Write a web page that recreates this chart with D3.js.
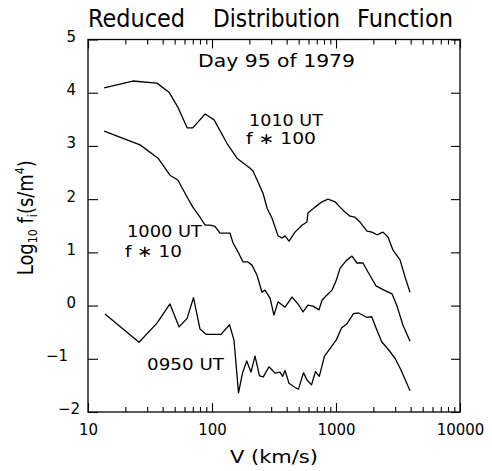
<!DOCTYPE html>
<html>
<head>
<meta charset="utf-8">
<script src="https://cdn.jsdelivr.net/npm/d3@7"></script>
<style>
  body { margin: 0; background: #fff; }
  svg text { font-family: "DejaVu Sans", "Liberation Sans", sans-serif; fill: #000; }
</style>
</head>
<body>
<svg id="chart" width="492" height="471"></svg>
<script>
// velocity (km/s) and log10 f for each time
const v1010 = [13.5, 23, 36, 45, 53, 63, 70, 88, 104, 132, 159, 203, 214, 231, 258, 278, 305, 341, 367, 388,
    418, 467, 532, 583, 594, 677, 771, 862, 982, 1077, 1182, 1297, 1423, 1561, 1778, 1950, 2141, 2393, 2626,
    2884, 3281, 3602, 3954];
const f1010 = [4.09, 4.22, 4.18, 4.01, 3.73, 3.34, 3.34, 3.60, 3.49, 3.05, 2.77, 2.58, 2.53, 2.36, 2.11, 1.83,
    1.64, 1.31, 1.27, 1.31, 1.21, 1.38, 1.51, 1.57, 1.74, 1.85, 1.95, 2.00, 1.95, 1.85, 1.76, 1.68, 1.66, 1.57,
    1.40, 1.38, 1.33, 1.38, 1.29, 1.04, 0.86, 0.54, 0.25];

const v1000 = [13.5, 26.3, 36.7, 45.8, 53, 63, 70, 80, 88, 96.4, 105.7, 116, 127.3, 139.7, 147.6, 162, 177.8,
    195, 210, 230.7, 253, 267.6, 294, 316, 340.7, 388, 441.6, 494, 542, 594, 652.5, 729, 771, 846, 928, 1000,
    1077, 1204, 1346, 1476, 1651, 1811, 2102, 2438, 2829, 3105, 3468, 3954];
const f1000 = [3.28, 3.02, 2.77, 2.45, 2.36, 2.04, 1.85, 1.66, 1.51, 1.51, 1.49, 1.36, 1.36, 1.36, 1.18, 1.01,
    0.82, 0.82, 0.76, 0.57, 0.25, 0.29, 0.14, -0.18, 0.07, -0.03, 0.16, 0.03, -0.12, 0.01, -0.01, -0.08, 0.10,
    0.20, 0.29, 0.46, 0.70, 0.84, 0.93, 0.80, 0.80, 0.63, 0.37, 0.29, 0.22, -0.01, -0.37, -0.67];

const v0950 = [13.7, 25.8, 36, 45.8, 54.2, 63, 70.9, 80, 89.5, 118.2, 138.4, 150.4, 163.6, 176.2, 190.5, 206.3,
    222.3, 241.6, 259.3, 288.4, 322.3, 353.5, 371.7, 388, 418, 467, 498.4, 547, 583, 634.6, 683.5, 733.3,
    807.6, 894.5, 1009, 1108, 1227, 1384, 1519, 1769, 1941, 2128, 2336, 2651, 2991, 3343, 3954];
const f0950 = [-0.16, -0.69, -0.33, 0.03, -0.40, -0.24, 0.15, -0.44, -0.54, -0.54, -0.36, -0.65, -1.64, -1.27,
    -1.04, -1.25, -0.95, -1.32, -1.34, -1.15, -1.27, -1.25, -1.33, -1.22, -1.46, -1.54, -1.57, -1.26, -1.40,
    -1.49, -1.24, -1.33, -0.95, -0.81, -0.64, -0.42, -0.34, -0.15, -0.14, -0.22, -0.21, -0.45, -0.68, -0.83,
    -0.99, -1.21, -1.60];

const xTickVals = [10, 100, 1000, 10000];
const yTickVals = [-2, -1, 0, 1, 2, 3, 4, 5];

let svg = d3.select("#chart"),
    margin = {top: 39.5, right: 32, bottom: 59, left: 88},
    width = +svg.attr("width"),
    height = +svg.attr("height");

let x = d3.scaleLog()
    .domain([10, 10000])
    .range([margin.left, width - margin.right]);

let y = d3.scaleLinear()
    .domain([-2, 5])
    .range([height - margin.bottom, margin.top]);

let minorVals = x.ticks().filter(d => xTickVals.indexOf(d) < 0);

// frame
svg.append("rect")
    .attr("x", x(10)).attr("y", y(5))
    .attr("width", x(10000) - x(10)).attr("height", y(-2) - y(5))
    .attr("fill", "none").attr("stroke", "#000").attr("stroke-width", 1.3);

function styleAxis(g) {
    g.select(".domain").remove();
    g.selectAll("line").attr("stroke", "#000").attr("stroke-width", 1.1);
    g.attr("font-size", 15).attr("font-family", null);
}

// bottom axis, major + minor
svg.append("g")
    .attr("transform", "translate(0," + y(-2) + ")")
    .call(d3.axisBottom(x).tickValues(xTickVals).tickSize(-9).tickSizeOuter(0).tickPadding(12)
        .tickFormat(d3.format("d")))
    .call(styleAxis);
svg.append("g")
    .attr("transform", "translate(0," + y(-2) + ")")
    .call(d3.axisBottom(x).tickValues(minorVals).tickSize(-5).tickSizeOuter(0).tickFormat(""))
    .call(styleAxis);

// top axis
svg.append("g")
    .attr("transform", "translate(0," + y(5) + ")")
    .call(d3.axisTop(x).tickValues(xTickVals).tickSize(-9).tickSizeOuter(0).tickFormat(""))
    .call(styleAxis);
svg.append("g")
    .attr("transform", "translate(0," + y(5) + ")")
    .call(d3.axisTop(x).tickValues(minorVals).tickSize(-5).tickSizeOuter(0).tickFormat(""))
    .call(styleAxis);

// left axis
let yLabelShift = {"-1": -8, "-2": 4};
svg.append("g")
    .attr("transform", "translate(" + x(10) + ",0)")
    .call(d3.axisLeft(y).tickValues(yTickVals).tickSize(-10).tickSizeOuter(0).tickPadding(12)
        .tickFormat(d3.format("d")))
    .call(styleAxis)
    .selectAll("text")
        .attr("dy", "0.13em")
        .attr("dx", d => yLabelShift[d] || 0);

// right axis
svg.append("g")
    .attr("transform", "translate(" + x(10000) + ",0)")
    .call(d3.axisRight(y).tickValues(yTickVals).tickSize(-9).tickSizeOuter(0).tickFormat(""))
    .call(styleAxis);

// curves
let line = d3.line()
    .x(d => x(d[0]))
    .y(d => y(d[1]));

[[v1010, f1010], [v1000, f1000], [v0950, f0950]].forEach(s => {
    svg.append("path")
        .datum(d3.zip(s[0], s[1]))
        .attr("d", line)
        .attr("fill", "none")
        .attr("stroke", "#000")
        .attr("stroke-width", 1.3)
        .attr("stroke-linejoin", "round");
});

// text
function label(txt, lx, ly, size, len) {
    return svg.append("text")
        .attr("x", lx).attr("y", ly)
        .attr("font-size", size)
        .attr("textLength", len)
        .attr("lengthAdjust", "spacingAndGlyphs")
        .text(txt);
}

label("Reduced", 88, 26.5, 25, 97);
label("Distribution", 213, 26.5, 25, 127);
label("Function", 357, 26.5, 25, 96);

label("Day 95 of 1979", 198, 67, 17.5, 157);
label("1010 UT", 249, 125.5, 15.5, 74);
label("f \u2217 100", 246, 143.5, 15.5, 70);
label("1000 UT", 127, 237, 16.5, 75);
label("f \u2217 10", 125, 257, 16.5, 57);
label("0950 UT", 147, 370, 16.5, 77);

label("V (km/s)", 230, 463, 17, 88);

// y axis title with sub/superscripts
let yt = svg.append("text")
    .attr("transform", "translate(33," + ((y(5) + y(-2)) / 2 - 8) + ") rotate(-90)")
    .attr("text-anchor", "middle")
    .attr("font-size", 21)
    .attr("textLength", 115)
    .attr("lengthAdjust", "spacingAndGlyphs");
yt.append("tspan").text("Log");
yt.append("tspan").attr("font-size", 13).attr("dy", 4).text("10");
yt.append("tspan").attr("dy", -4).text(" f");
yt.append("tspan").attr("font-size", 13).attr("dy", 4).text("i");
yt.append("tspan").attr("dy", -4).text("(s/m");
yt.append("tspan").attr("font-size", 13).attr("dy", -9).text("4");
yt.append("tspan").attr("dy", 9).text(")");
</script>
</body>
</html>
